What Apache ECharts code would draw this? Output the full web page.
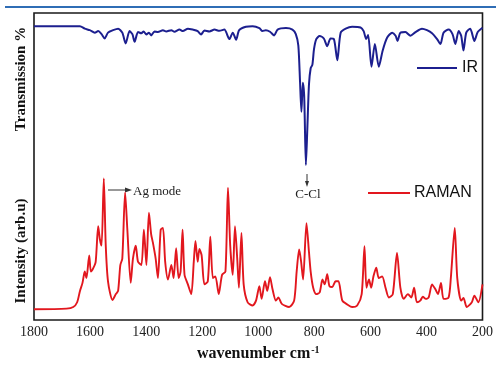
<!DOCTYPE html>
<html>
<head>
<meta charset="utf-8">
<script src="https://cdn.jsdelivr.net/npm/echarts@6/dist/echarts.min.js"></script>
<style>
html,body{margin:0;padding:0;background:#fff;}
#chart{width:496px;height:367px;}
</style>
</head>
<body>
<div id="chart"></div>
<script>
// x tick labels
const xTicks = [1800, 1600, 1400, 1200, 1000, 800, 600, 400, 200];
// IR spectrum: [wavenumber, transmission]
const irWavenumber = [1800,1636,1619,1601,1583,1571,1559,1548,1536,1518,1500,1485,1473,1459,1449,1441,1429,1417,1409,1399,1390,1382,1370,1358,1340,1328,1310,1299,1281,1269,1251,1234,1216,1204,1192,1174,1156,1139,1121,1103,1091,1079,1068,1044,1020,996,985,973,958,943,931,901,878,866,857,851,846,841,836,830,825,819,813,807,801,793,781,766,754,742,730,718,706,688,665,635,624,615,608,596,584,570,556,540,522,510,503,493,475,457,439,416,398,380,362,350,339,321,307,297,285,276,268,258,244,238,229,217,200];
const irTransmission = [95.7,95.7,94.9,94.4,93.6,94.1,93.1,91.7,93.6,94.4,94.9,93.6,90.1,94.1,93.1,90.6,93.8,93.4,94.0,93.0,93.6,92.7,94.0,93.8,94.4,94.0,94.4,93.9,94.6,94.1,94.9,94.6,94.1,93.0,94.3,94.0,94.6,94.2,94.6,91.5,93.6,91.3,94.4,95.5,95.7,95.1,94.1,94.4,93.9,92.7,94.6,95.1,94.6,93.1,89.4,77.8,67.8,77.3,72.6,50.5,62.1,76.8,82.0,83.1,88.3,91.5,92.5,91.7,89.2,91.7,91.5,84.6,93.6,94.9,95.5,95.3,94.1,91.5,92.8,82.5,89.9,82.5,87.8,92.0,93.6,92.6,90.9,93.6,93.8,92.6,93.8,94.9,94.4,93.4,91.5,89.9,93.6,94.6,93.1,89.9,94.1,92.6,87.8,93.6,94.9,93.6,90.9,93.8,95.2];
// Raman spectrum: [wavenumber, intensity]
const ramanWavenumber = [1800,1684,1660,1646,1636,1627,1619,1613,1603,1597,1589,1580,1571,1565,1559,1551,1544,1536,1520,1508,1500,1492,1485,1475,1467,1455,1447,1437,1429,1417,1408,1399,1390,1382,1376,1366,1358,1348,1340,1332,1322,1310,1302,1293,1284,1277,1270,1263,1251,1239,1230,1224,1216,1210,1202,1192,1180,1171,1162,1153,1141,1129,1117,1108,1100,1091,1083,1075,1069,1060,1052,1038,1020,1008,996,988,976,968,958,949,937,928,916,890,872,863,854,847,840,828,819,813,804,793,781,771,763,754,746,736,724,714,700,682,665,647,631,621,614,605,597,589,579,570,558,546,534,520,505,493,481,466,454,444,434,422,413,402,392,380,368,359,348,339,321,313,299,290,276,268,256,238,229,215,200];
const ramanIntensity = [0,0.5,1.7,5.3,13.8,19.8,28.3,23.4,40.4,28.3,30.7,35.6,62.2,52.5,47.7,98.0,47.7,21.0,7.0,11.4,13.8,33.2,38.0,87.6,59.7,19.8,38.0,47.7,35.6,33.2,59.7,33.2,72.4,56.1,50.1,38.0,23.4,59.7,61.0,35.6,22.3,33.2,23.4,45.7,23.4,28.3,59.7,25.9,18.7,11.4,35.6,51.3,35.6,45.2,40.4,18.7,21.0,54.4,23.4,24.7,11.4,25.9,28.3,91.2,47.7,25.9,62.2,38.0,16.2,57.3,18.7,5.3,2.9,6.5,17.4,7.8,21.0,13.8,24.0,15.0,6.5,8.9,4.1,1.7,6.5,28.3,44.8,35.6,22.3,64.6,42.8,28.3,16.2,11.4,12.6,22.3,18.7,26.3,17.4,16.7,21.0,21.0,6.5,3.6,1.7,2.9,11.4,47.2,16.2,22.3,16.2,24.7,31.2,23.4,24.7,16.2,8.9,11.4,42.3,16.2,7.8,11.4,8.9,16.2,5.3,6.5,9.4,7.8,8.9,18.7,15.0,11.4,19.8,7.8,8.9,23.4,61.0,23.4,6.5,8.5,1.7,5.3,10.2,5.3,18.7];

const irData = irWavenumber.map((w, i) => [w, irTransmission[i]]);
const ramanData = ramanWavenumber.map((w, i) => [w, ramanIntensity[i]]);

const chart = echarts.init(document.getElementById('chart'), null, {renderer: 'canvas'});
const serif = '"Liberation Serif", "DejaVu Serif", serif';
const sans = '"Liberation Sans", Arial, sans-serif';

chart.setOption({
  backgroundColor: '#ffffff',
  animation: false,
  grid: {left: 34, right: 12, top: 13, bottom: 37, show: true, borderColor: '#1a1a1a', borderWidth: 1.6, backgroundColor: 'transparent'},
  xAxis: {
    type: 'value', min: 200, max: 1800, interval: 200, inverse: true,
    axisLine: {show: false}, axisTick: {show: false}, splitLine: {show: false},
    axisLabel: {color: '#222', fontFamily: serif, fontSize: 14, margin: 5,
      formatter: v => xTicks.includes(v) ? String(v) : ''},
    name: '{a|wavenumber cm}{b|-1}', nameLocation: 'middle', nameGap: 25,
    nameTextStyle: {rich: {
      a: {fontFamily: serif, fontSize: 16, fontWeight: 'bold', color: '#111'},
      b: {fontFamily: serif, fontSize: 10, fontWeight: 'bold', color: '#111', verticalAlign: 'top', padding: [0,0,8,1]}
    }}
  },
  yAxis: [
    {type: 'value', min: 0, max: 100, show: false},
    {type: 'value', min: -8, max: 222, show: false}
  ],
  series: [
    {name: 'IR', type: 'line', data: irData, yAxisIndex: 0, showSymbol: false, smooth: 0.25,
      lineStyle: {color: '#1c1f8f', width: 2}, itemStyle: {color: '#1c1f8f'}},
    {name: 'RAMAN', type: 'line', data: ramanData, yAxisIndex: 1, showSymbol: false, smooth: 0.25,
      lineStyle: {color: '#e2171e', width: 1.9}, itemStyle: {color: '#e2171e'}}
  ],
  graphic: [
    {type: 'line', shape: {x1: 5, y1: 7, x2: 496, y2: 7}, style: {stroke: '#2f6db5', lineWidth: 2}},
    // legend IR
    {type: 'line', shape: {x1: 417, y1: 68, x2: 457, y2: 68}, style: {stroke: '#1c1f8f', lineWidth: 1.8}},
    {type: 'text', x: 462, y: 68, style: {text: 'IR', fontFamily: sans, fontSize: 16, fill: '#111', verticalAlign: 'middle'}},
    // legend RAMAN
    {type: 'line', shape: {x1: 368, y1: 193, x2: 410, y2: 193}, style: {stroke: '#e2171e', lineWidth: 1.8}},
    {type: 'text', x: 414, y: 193, style: {text: 'RAMAN', fontFamily: sans, fontSize: 16, fill: '#111', verticalAlign: 'middle'}},
    // y-axis titles
    {type: 'text', x: 21, y: 79, rotation: Math.PI / 2, style: {text: 'Transmission %', fontFamily: serif, fontSize: 15, fontWeight: 'bold', fill: '#111', align: 'center', verticalAlign: 'middle'}},
    {type: 'text', x: 21, y: 251, rotation: Math.PI / 2, style: {text: 'Intensity (arb.u)', fontFamily: serif, fontSize: 15, fontWeight: 'bold', fill: '#111', align: 'center', verticalAlign: 'middle'}},
    // Ag mode annotation
    {type: 'line', shape: {x1: 108, y1: 190, x2: 127, y2: 190}, style: {stroke: '#333', lineWidth: 1}},
    {type: 'polygon', shape: {points: [[132, 190], [125, 187.5], [125, 192.5]]}, style: {fill: '#333'}},
    {type: 'text', x: 133, y: 192, style: {text: 'Ag mode', fontFamily: serif, fontSize: 13, fill: '#222', verticalAlign: 'middle'}},
    // C-Cl annotation
    {type: 'line', shape: {x1: 307, y1: 174, x2: 307, y2: 183}, style: {stroke: '#333', lineWidth: 1}},
    {type: 'polygon', shape: {points: [[307, 187], [305, 181], [309, 181]]}, style: {fill: '#333'}},
    {type: 'text', x: 308, y: 195, style: {text: 'C-Cl', fontFamily: serif, fontSize: 13, fill: '#222', align: 'center', verticalAlign: 'middle'}}
  ]
});
</script>
</body>
</html>
